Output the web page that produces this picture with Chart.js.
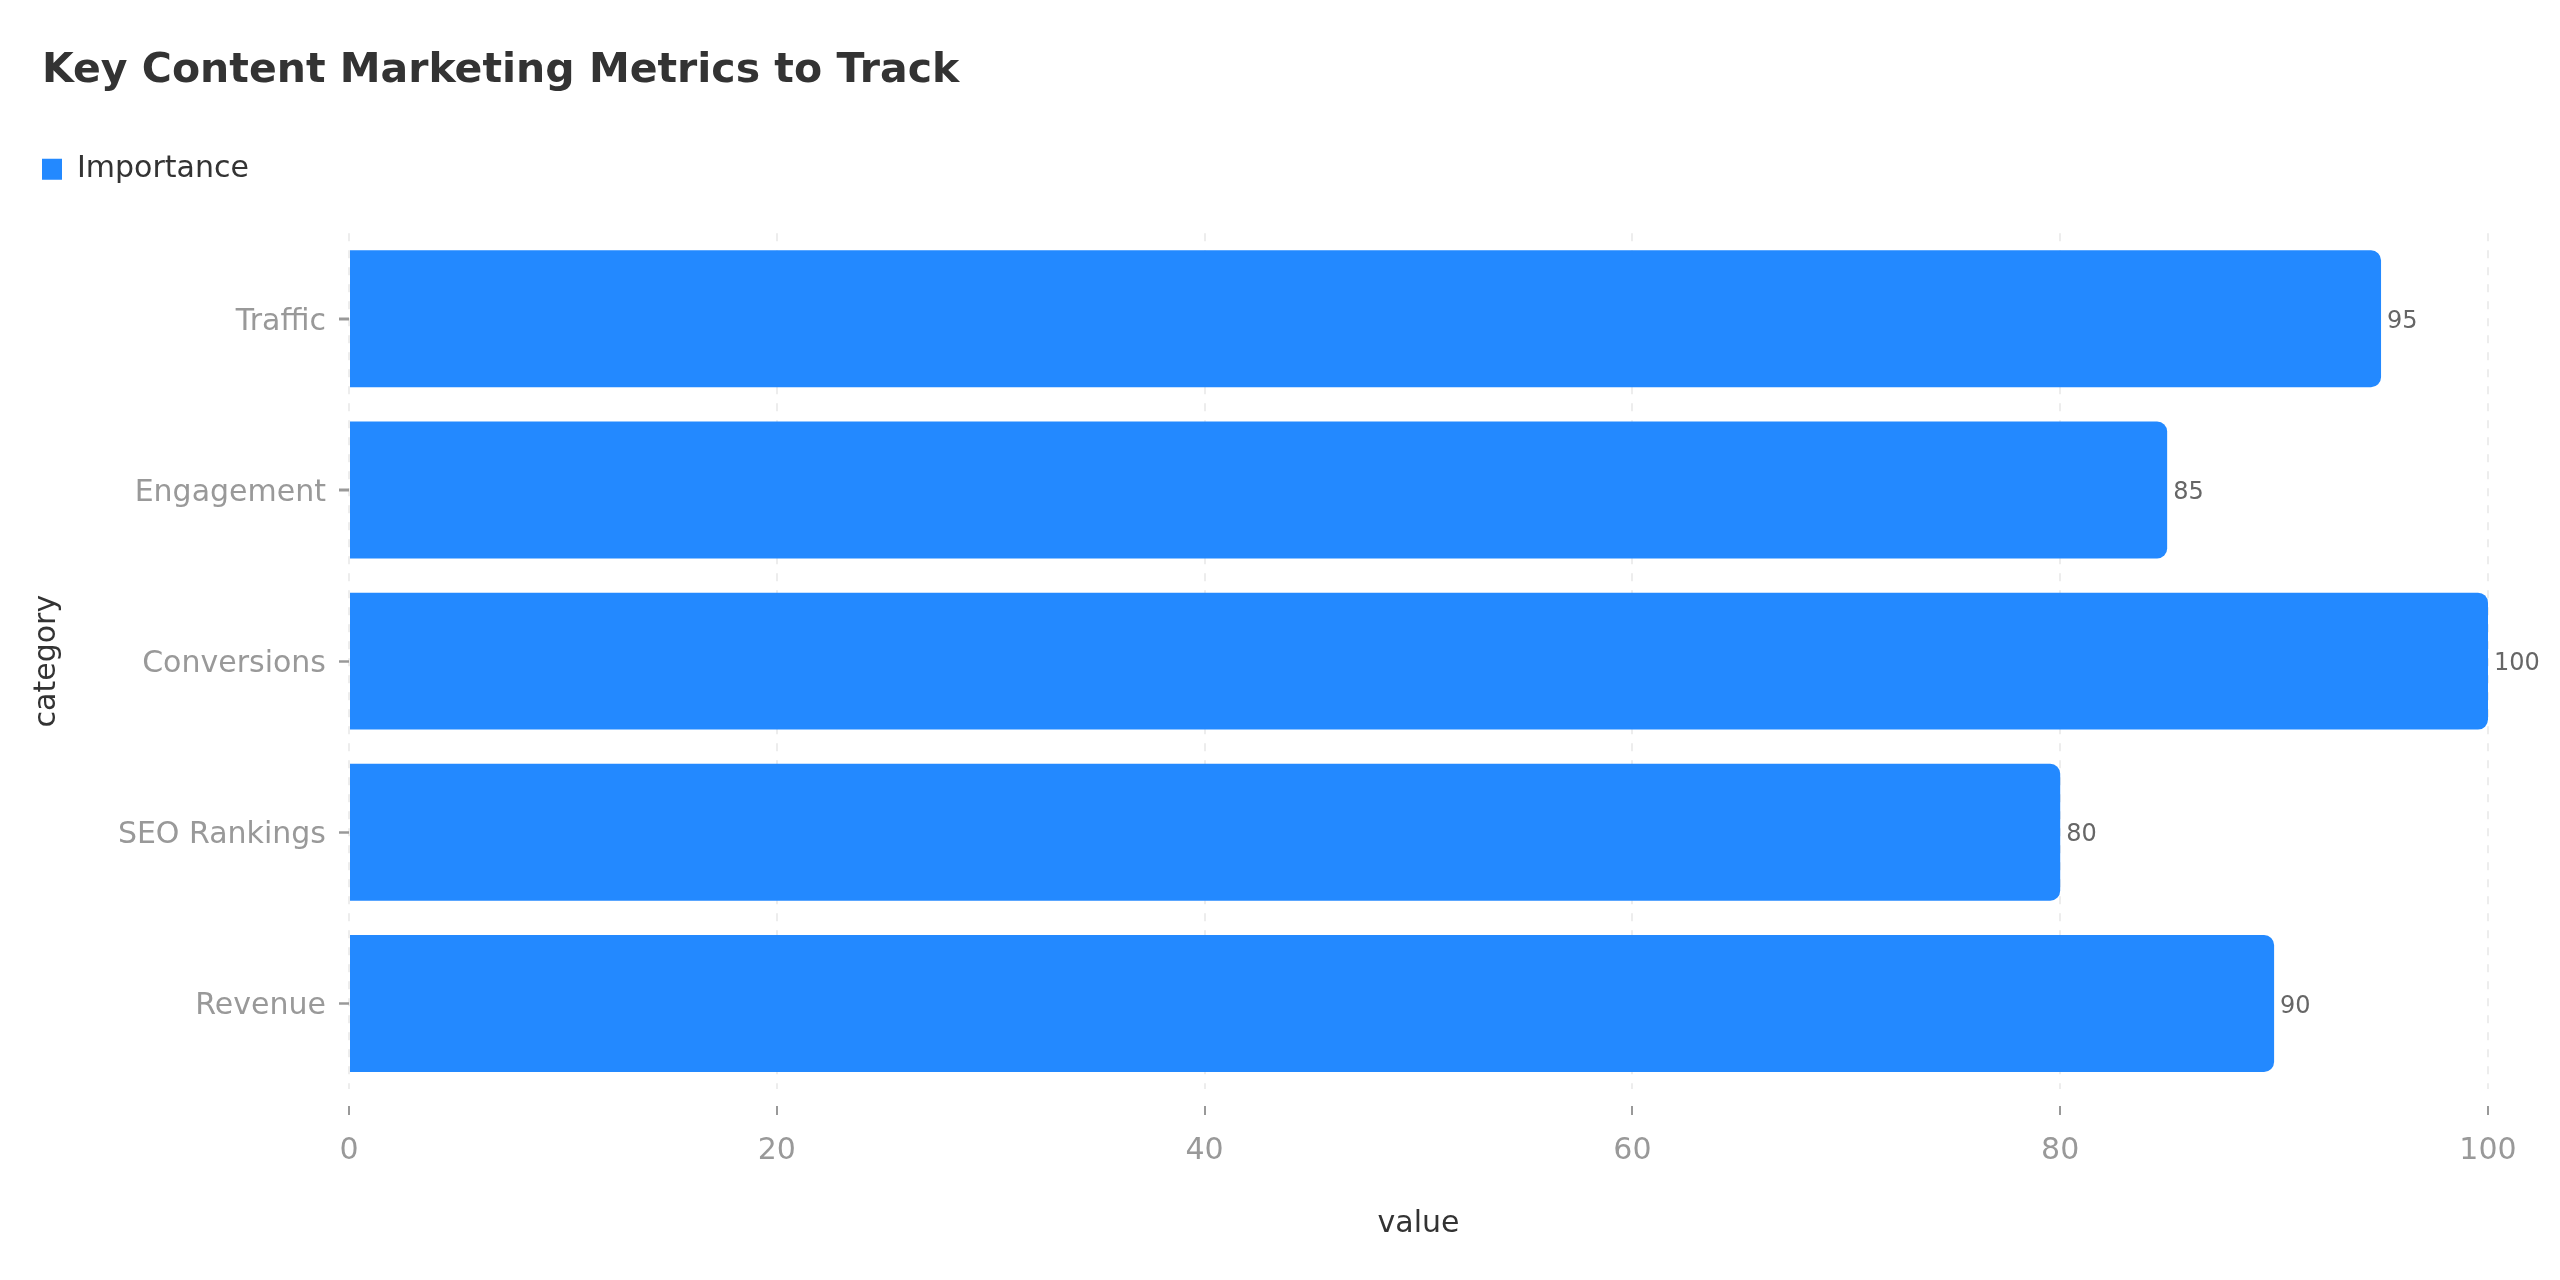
<!DOCTYPE html>
<html>
<head>
<meta charset="utf-8">
<style>
  html, body { margin: 0; padding: 0; background: #ffffff; }
  #wrap { width: 2560px; height: 1280px; }
</style>
<script src="https://cdn.jsdelivr.net/npm/chart.js@4.4.1/dist/chart.umd.min.js"></script>
</head>
<body>
<div id="wrap"><canvas id="c" width="2560" height="1280"></canvas></div>
<script>
const titleText = 'Key Content Marketing Metrics to Track';
const seriesName = 'Importance';
const categories = ['Traffic', 'Engagement', 'Conversions', 'SEO Rankings', 'Revenue'];
const importance = [95, 85, 100, 80, 90];
const xTickValues = [0, 20, 40, 60, 80, 100];
const xAxisTitle = 'value';
const yAxisTitle = 'category';

const FONT = "'DejaVu Sans', 'Noto Sans', sans-serif";
const BAR = '#2389ff';

const valueLabels = {
  id: 'valueLabels',
  afterDraw(chart) {
    const ctx = chart.ctx;
    const meta = chart.getDatasetMeta(0);
    const yScale = chart.scales.y;
    ctx.save();
    // category tick marks at the centre of each band, positioned by the y scale
    ctx.strokeStyle = '#999999';
    ctx.lineWidth = 2;
    ctx.beginPath();
    categories.forEach((c, i) => {
      const py = Math.round(yScale.getPixelForValue(i)) + 0.5;
      ctx.moveTo(yScale.right - 10, py);
      ctx.lineTo(yScale.right, py);
    });
    ctx.stroke();
    // value labels at the end of each bar
    ctx.font = '24px ' + FONT;
    ctx.fillStyle = '#666666';
    ctx.textAlign = 'left';
    ctx.textBaseline = 'middle';
    meta.data.forEach((bar, i) => {
      ctx.fillText(String(chart.data.datasets[0].data[i]), bar.x + 6, bar.y + 3);
    });
    ctx.restore();
  }
};

new Chart(document.getElementById('c'), {
  type: 'bar',
  data: {
    labels: categories,
    datasets: [{
      label: seriesName,
      data: importance,
      backgroundColor: BAR,
      borderWidth: 0,
      borderRadius: 10,
      barPercentage: 0.8,
      categoryPercentage: 1.0
    }]
  },
  options: {
    indexAxis: 'y',
    responsive: false,
    animation: false,
    devicePixelRatio: 1,
    layout: { padding: { left: 42, right: 72, top: 0, bottom: 0 } },
    plugins: {
      title: {
        display: true,
        text: titleText,
        align: 'start',
        color: '#333333',
        font: { family: FONT, size: 41, weight: 'bold', lineHeight: 1.2 },
        padding: { top: 47, bottom: 58 }
      },
      legend: {
        display: true,
        position: 'top',
        align: 'start',
        labels: {
          boxWidth: 20,
          boxHeight: 21,
          padding: 0,
          color: '#333333',
          font: { family: FONT, size: 30 }
        }
      },
      subtitle: {
        display: true,
        text: '',
        weight: 500,
        font: { family: FONT, size: 10, lineHeight: '39px' },
        padding: 0
      },
      tooltip: { enabled: false }
    },
    scales: {
      x: {
        type: 'linear',
        min: 0,
        max: 100,
        afterBuildTicks(scale) { scale.ticks = xTickValues.map(v => ({ value: v })); },
        afterFit(scale) { scale.height = 191; },
        border: { display: false, dash: [8, 9] },
        grid: {
          color: '#ededed',
          lineWidth: 2,
          drawTicks: true,
          tickLength: 26,
          tickColor: '#999999',
          tickWidth: 2,
          tickBorderDash: [0, 17, 9, 1000]
        },
        ticks: {
          color: '#999999',
          padding: 18,
          font: { family: FONT, size: 30 }
        },
        title: {
          display: true,
          text: xAxisTitle,
          color: '#333333',
          font: { family: FONT, size: 30, lineHeight: 1.2 },
          padding: { top: 40, bottom: 38 }
        }
      },
      y: {
        type: 'category',
        afterFit(scale) { scale.width = 307; },
        border: { display: false },
        grid: {
          offset: false,
          drawOnChartArea: false,
          drawTicks: true,
          tickLength: 10,
          tickColor: '#999999',
          tickWidth: 2,
          z: 1
        },
        ticks: {
          color: '#999999',
          padding: 13,
          labelOffset: 3,
          font: { family: FONT, size: 30 }
        },
        title: {
          display: true,
          text: yAxisTitle,
          color: '#333333',
          font: { family: FONT, size: 30, lineHeight: 1.2 },
          padding: { top: -13, bottom: 0 }
        }
      }
    }
  },
  plugins: [valueLabels]
});
</script>
</body>
</html>
